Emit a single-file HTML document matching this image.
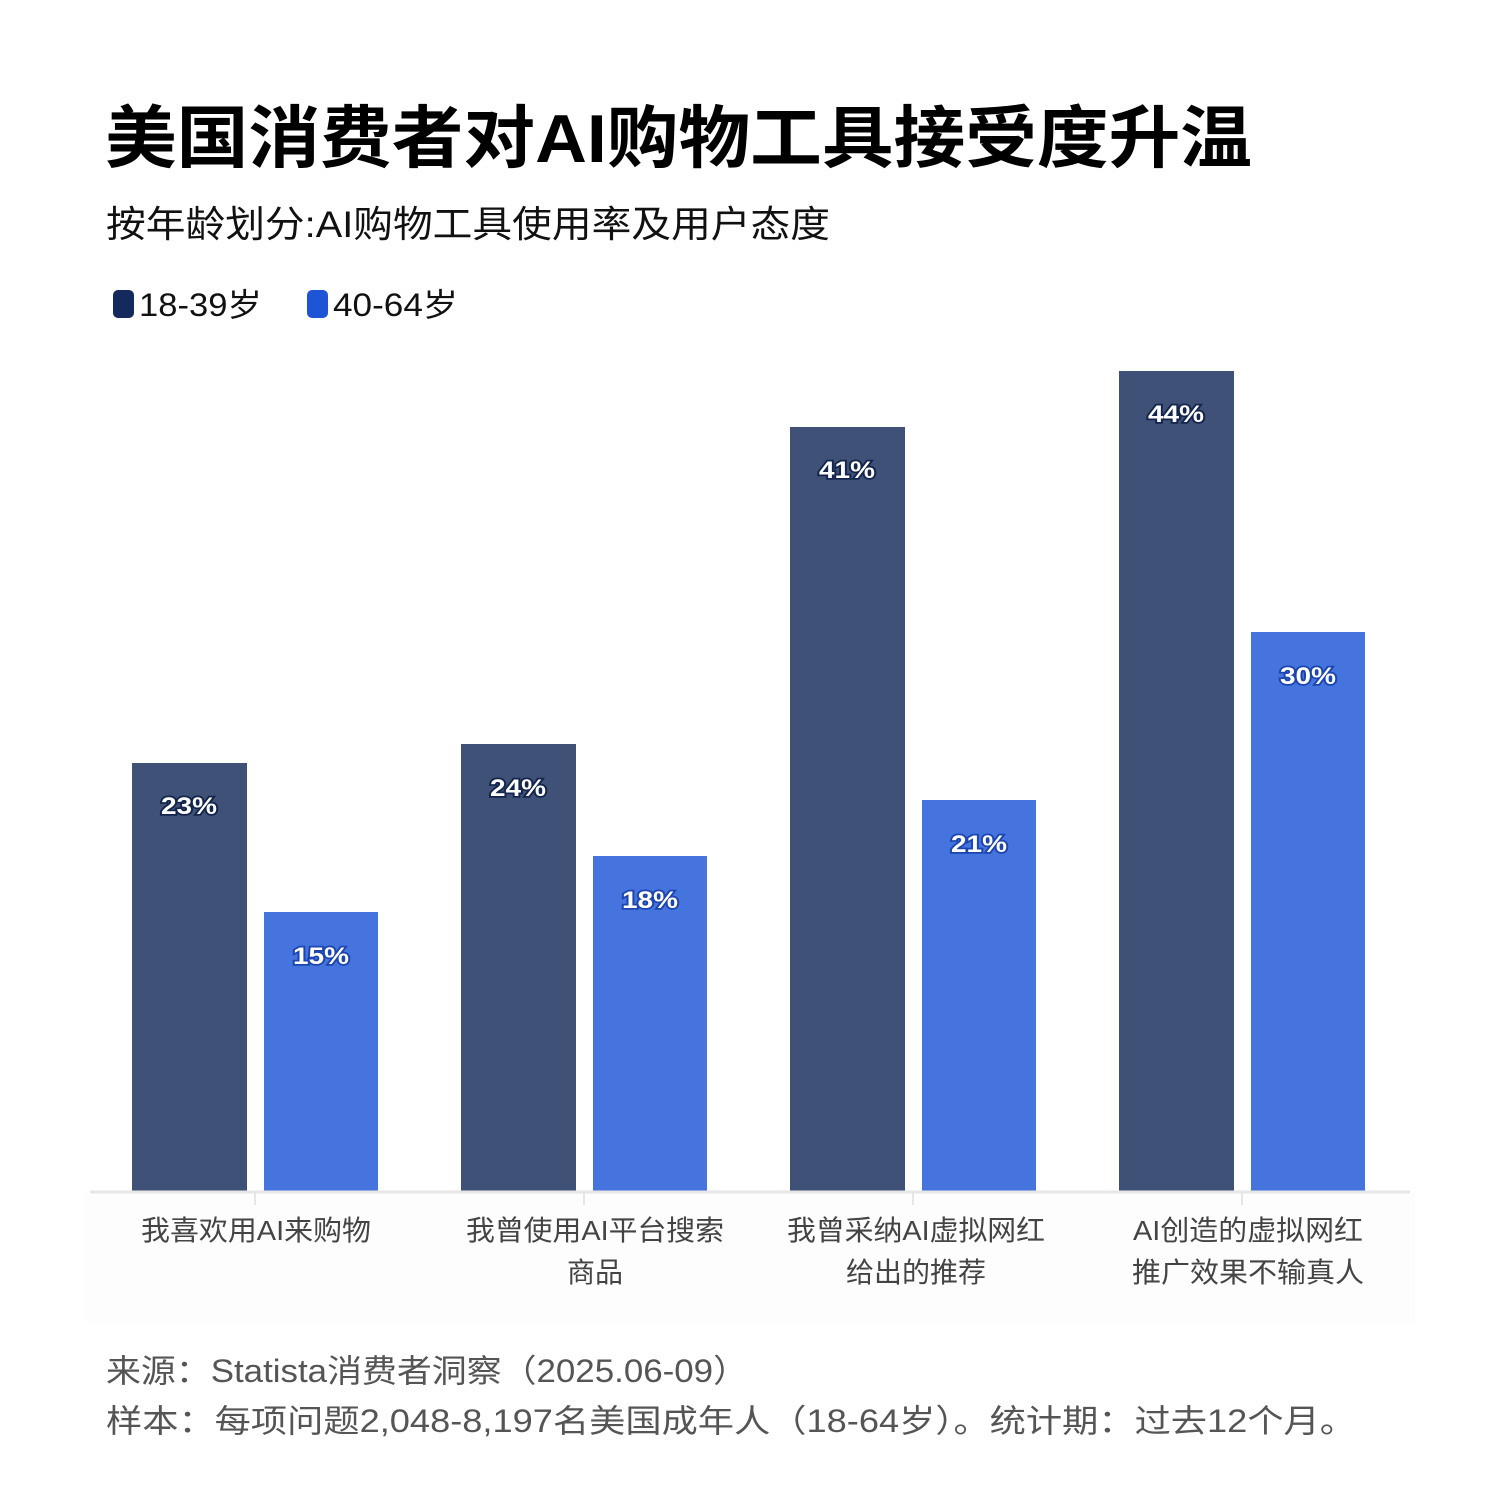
<!DOCTYPE html>
<html><head><meta charset="utf-8"><style>
html,body{margin:0;padding:0;background:#fff;}
svg{display:block;}
text{font-family:"Liberation Sans","Noto Sans CJK SC",sans-serif;}
</style></head><body>
<svg width="1500" height="1500" viewBox="0 0 1500 1500" xmlns="http://www.w3.org/2000/svg">
<rect width="1500" height="1500" fill="#fff"/>
<text x="105" y="162" font-size="68" font-weight="bold" fill="#000" textLength="1147" lengthAdjust="spacingAndGlyphs">美国消费者对AI购物工具接受度升温</text>
<text x="106" y="237" font-size="37" fill="#111" textLength="724" lengthAdjust="spacingAndGlyphs">按年龄划分:AI购物工具使用率及用户态度</text>
<rect x="113" y="290" width="21" height="28" rx="5" fill="#142a5c"/>
<text x="139" y="316" font-size="32" fill="#111" textLength="123" lengthAdjust="spacingAndGlyphs">18-39岁</text>
<rect x="307" y="290" width="21" height="28" rx="5" fill="#1d55d6"/>
<text x="333" y="316" font-size="32" fill="#111" textLength="125" lengthAdjust="spacingAndGlyphs">40-64岁</text>
<rect x="85" y="1193" width="1330" height="130" fill="#fdfdfd"/>
<g fill="#405177">
<rect x="132" y="763" width="115" height="428"/>
<rect x="461" y="744" width="115" height="447"/>
<rect x="790" y="427" width="115" height="764"/>
<rect x="1119" y="371" width="115" height="820"/>
</g>
<g fill="#4674de">
<rect x="264" y="912" width="114" height="279"/>
<rect x="593" y="856" width="114" height="335"/>
<rect x="922" y="800" width="114" height="391"/>
<rect x="1251" y="632" width="114" height="559"/>
</g>
<line x1="90" y1="1192" x2="1410" y2="1192" stroke="#e6e6e6" stroke-width="3"/>
<g stroke="#e6e6e6" stroke-width="2">
<line x1="255" y1="1192" x2="255" y2="1205"/><line x1="584" y1="1192" x2="584" y2="1205"/>
<line x1="913" y1="1192" x2="913" y2="1205"/><line x1="1242" y1="1192" x2="1242" y2="1205"/>
</g>
<g font-size="24" font-weight="bold" fill="#fff" text-anchor="middle" stroke-width="3.5" paint-order="stroke">
<text x="189" y="814" stroke="#14254d" textLength="56" lengthAdjust="spacingAndGlyphs">23%</text>
<text x="518" y="796" stroke="#14254d" textLength="56" lengthAdjust="spacingAndGlyphs">24%</text>
<text x="847" y="478" stroke="#14254d" textLength="56" lengthAdjust="spacingAndGlyphs">41%</text>
<text x="1176" y="422" stroke="#14254d" textLength="56" lengthAdjust="spacingAndGlyphs">44%</text>
<text x="321" y="964" stroke="#1d45b0" textLength="56" lengthAdjust="spacingAndGlyphs">15%</text>
<text x="650" y="908" stroke="#1d45b0" textLength="56" lengthAdjust="spacingAndGlyphs">18%</text>
<text x="979" y="852" stroke="#1d45b0" textLength="56" lengthAdjust="spacingAndGlyphs">21%</text>
<text x="1308" y="684" stroke="#1d45b0" textLength="56" lengthAdjust="spacingAndGlyphs">30%</text>
</g>
<g font-size="28" fill="#444" text-anchor="middle">
<text x="256" y="1240" textLength="230" lengthAdjust="spacingAndGlyphs">我喜欢用AI来购物</text>
<text x="595" y="1240" textLength="258" lengthAdjust="spacingAndGlyphs">我曾使用AI平台搜索</text>
<text x="595" y="1282">商品</text>
<text x="916" y="1240" textLength="258" lengthAdjust="spacingAndGlyphs">我曾采纳AI虚拟网红</text>
<text x="916" y="1282">给出的推荐</text>
<text x="1248" y="1240" textLength="230" lengthAdjust="spacingAndGlyphs">AI创造的虚拟网红</text>
<text x="1248" y="1282" textLength="232" lengthAdjust="spacingAndGlyphs">推广效果不输真人</text>
</g>
<g font-size="32" fill="#555">
<text x="106" y="1382" textLength="642" lengthAdjust="spacingAndGlyphs">来源：Statista消费者洞察（2025.06-09）</text>
<text x="106" y="1432" textLength="1250" lengthAdjust="spacingAndGlyphs">样本：每项问题2,048-8,197名美国成年人（18-64岁）。统计期：过去12个月。</text>
</g>
</svg>
</body></html>
